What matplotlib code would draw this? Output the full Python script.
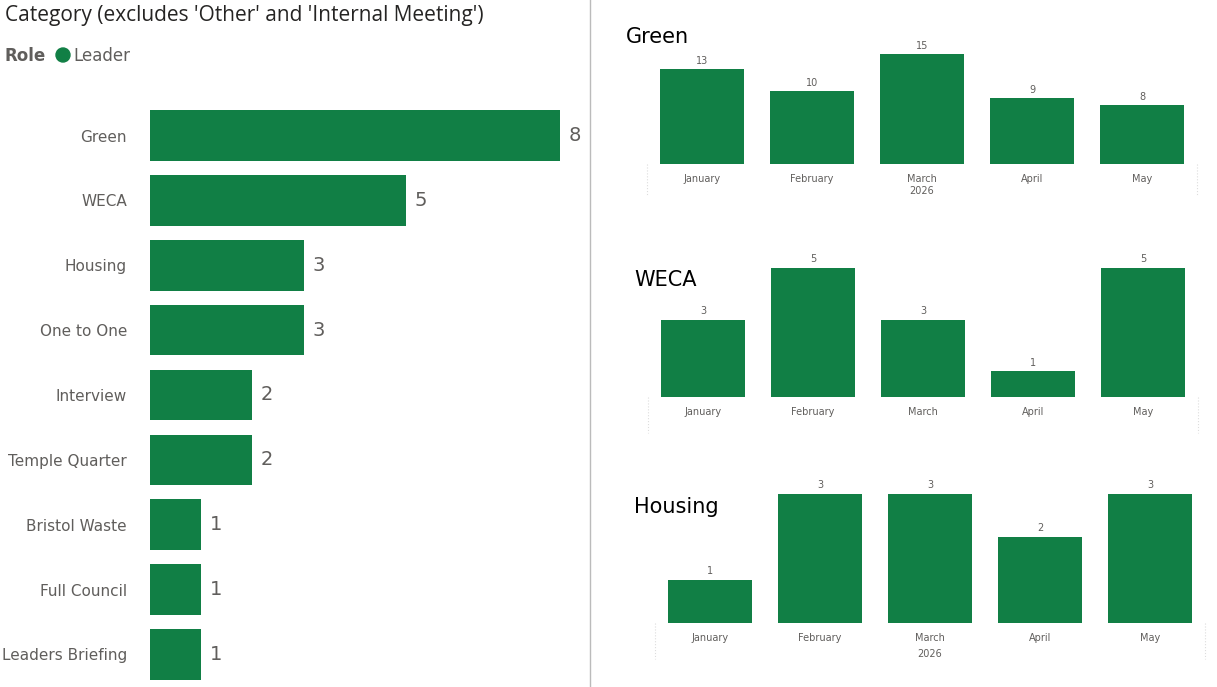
import matplotlib
matplotlib.use('Agg')
import matplotlib.pyplot as plt

categories = ['Green', 'WECA', 'Housing', 'One to One', 'Interview', 'Temple Quarter',
              'Bristol Waste', 'Full Council', 'Leaders Briefing']
counts = [8, 5, 3, 3, 2, 2, 1, 1, 1]

months = ['January', 'February', 'March', 'April', 'May']
green_monthly = [13, 10, 15, 9, 8]
weca_monthly = [3, 5, 3, 1, 5]
housing_monthly = [1, 3, 3, 2, 3]

GREEN = '#117F45'
W, H = 1217, 687

fig = plt.figure(figsize=(W / 100, H / 100), dpi=100)
fig.patch.set_facecolor('white')

def box(l, t, r, b):
    return [l / W, 1 - b / H, (r - l) / W, (b - t) / H]

# left panel
fig.text(5 / W, 1 - 16 / H, "Category (excludes 'Other' and 'Internal Meeting')",
         fontsize=15, color='#252423', va='center', family='Open Sans')
fig.text(5 / W, 1 - 56 / H, 'Role', fontsize=12, fontweight='bold', color='#605E5C', va='center')
fig.text(73 / W, 1 - 56 / H, 'Leader', fontsize=12, color='#605E5C', va='center')
fig.patches.append(matplotlib.patches.Ellipse((63 / W, 1 - 55 / H), 14 / W, 14 / H,
                                              transform=fig.transFigure, color=GREEN))

ax = fig.add_axes(box(150, 100, 580, 690))
ypos = list(range(len(categories)))
ax.barh(ypos, counts, height=0.78, color=GREEN)
ax.set_ylim(len(categories) - 0.45, -0.55)
ax.set_xlim(0, 8.4)
ax.set_yticks(ypos)
ax.set_yticklabels(categories, fontsize=11, color='#605E5C')
ax.tick_params(left=False, bottom=False, labelbottom=False, pad=13)
for y, v in zip(ypos, counts):
    ax.text(v + 0.17, y, str(v), va='center', fontsize=14, color='#605E5C')
for s in ax.spines.values():
    s.set_visible(False)

# divider
fig.add_artist(plt.Line2D([590 / W, 590 / W], [0, 1], color='#BBBBBB', lw=1))

def small_chart(title, tx, ty, vals, l, t, r, b, ymax, show_year=True):
    fig.text(tx / W, 1 - ty / H, title, fontsize=15, color='black', va='center')
    a = fig.add_axes(box(l, t, r, b))
    x = range(len(vals))
    a.bar(x, vals, width=0.77, color=GREEN)
    a.set_xlim(-0.5, len(vals) - 0.5)
    a.set_ylim(0, ymax)
    for xi, v in zip(x, vals):
        a.text(xi, v + ymax * 0.025, str(v), ha='center', va='bottom', fontsize=7, color='#605E5C')
    a.set_xticks(list(x))
    a.set_xticklabels(months, fontsize=7, color='#605E5C')
    a.tick_params(left=False, bottom=False, labelleft=False, pad=4)
    for s in a.spines.values():
        s.set_visible(False)
    for xe in (-0.5, len(vals) - 0.5):
        a.plot([xe, xe], [0, -ymax * 0.25], ls=':', color='#DDDDDD', lw=0.8, clip_on=False)
    if show_year:
        a.text(2, -ymax * 0.18, '2026', ha='center', va='top', fontsize=7,
               color='#605E5C', transform=a.transData)
    return a

small_chart('Green', 626, 37, green_monthly, 647, 40, 1197, 164, 16.9)
small_chart('WECA', 634, 280, weca_monthly, 648, 255, 1198, 397, 5.5, show_year=False)
small_chart('Housing', 634, 507, housing_monthly, 655, 481, 1205, 623, 3.3)

fig.savefig('out.png', dpi=100, facecolor='white')
